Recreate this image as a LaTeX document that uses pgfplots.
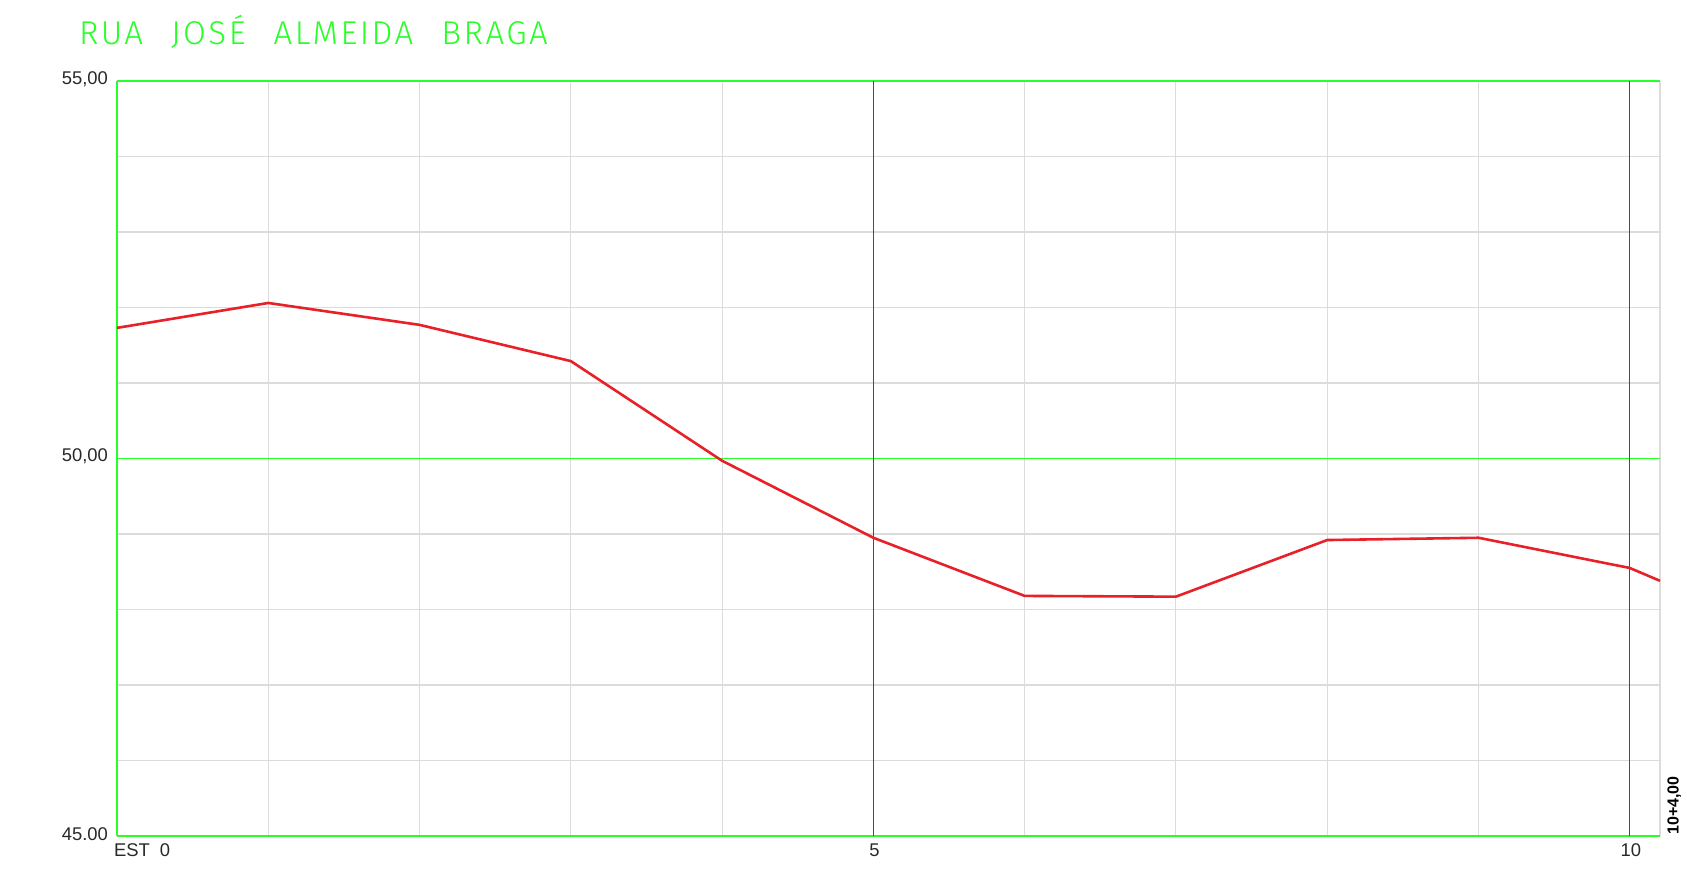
\documentclass[border=0pt]{standalone}
\usepackage{pgfplots}
\pgfplotsset{compat=1.18}
\usepackage{fontspec}
\setmainfont{Liberation Sans}
\newfontfamily\titlefont[LetterSpace=7.5,WordSpace=2.4]{Fira Sans Light}
\definecolor{cadgreen}{RGB}{40,255,40}
\definecolor{cadred}{RGB}{255,0,0}
\definecolor{linered}{RGB}{232,32,40}
\definecolor{gridgray}{RGB}{220,220,220}
\definecolor{labelgray}{RGB}{40,40,40}
\begin{document}
\begin{tikzpicture}
\begin{axis}[
  scale only axis,
  width=771.5pt, height=377.5pt,
  xmin=0, xmax=10.2, ymin=45, ymax=55,
  axis line style={draw=none},
  xtick={5,10}, xticklabels={5,10},
  extra x ticks={0}, extra x tick labels={EST\hspace{0.55em}0},
  extra x tick style={xticklabel style={anchor=north west, xshift=-5.5pt}},
  ytick={45,50,55}, yticklabels={45.00,{50,00},{55,00}},
  minor xtick={1,2,3,4,6,7,8,9}, minor ytick={46,47,48,49,51,52,53,54},
  major tick length=0pt, minor tick length=0pt,
  grid=none,
  tick label style={font=\fontsize{9.2}{10}\selectfont, text=labelgray},
  xticklabel style={yshift=-0.5pt, xshift=0.5pt},
  yticklabel style={xshift=-1pt, yshift=1pt},
  /pgf/number format/assume math mode=true,
  clip=false,
]
% light grid
\foreach \xx in {1,2,3,4,6,7,8,9} {
  \edef\tmp{\noexpand\draw[gridgray, line width=0.55pt] (axis cs:\xx,45) -- (axis cs:\xx,55);}\tmp
}
\foreach \yy in {46,47,48,49,51,52,53,54} {
  \edef\tmp{\noexpand\draw[gridgray, line width=0.55pt] (axis cs:0,\yy) -- (axis cs:10.2,\yy);}\tmp
}
\draw[gridgray, line width=0.6pt] (axis cs:10.2,45) -- (axis cs:10.2,55);
% green frame lines
\draw[cadgreen, line width=0.7pt] (axis cs:0,45) -- (axis cs:10.2,45);
\draw[cadgreen, line width=0.7pt] (axis cs:0,50) -- (axis cs:10.2,50);
\draw[cadgreen, line width=0.7pt] (axis cs:0,55) -- (axis cs:10.2,55);
\draw[cadgreen, line width=0.7pt] (axis cs:0,45) -- (axis cs:0,55);
% red station lines
\draw[cadred, line width=0.5pt] (axis cs:5,45) -- (axis cs:5,55);
\draw[cadred, line width=0.5pt] (axis cs:10,45) -- (axis cs:10,55);
% profile
\addplot[linered, line width=1.3pt, mark=none] coordinates {
  (0,51.73) (1,52.06) (2,51.77) (3,51.29) (4,49.97) (5,48.95)
  (6,48.18) (7,48.17) (8,48.92) (9,48.95) (10,48.55) (10.2,48.38)
};
% labels
\node[anchor=north west, rotate=90, inner sep=0pt, font=\fontsize{8}{9}\selectfont\bfseries, xshift=0.5pt, yshift=-3.5pt] at (axis cs:10.2,45) {10+4,00};
\node[anchor=base west, text=cadgreen, font=\titlefont\fontsize{16.5}{18}\selectfont, xshift=-22.5pt, yshift=18pt] at (rel axis cs:0,1) {RUA JOSÉ ALMEIDA BRAGA};
\end{axis}
\pgfresetboundingbox
\useasboundingbox (-58.5pt,-21pt) rectangle (785pt,418pt);
\end{tikzpicture}
\end{document}
